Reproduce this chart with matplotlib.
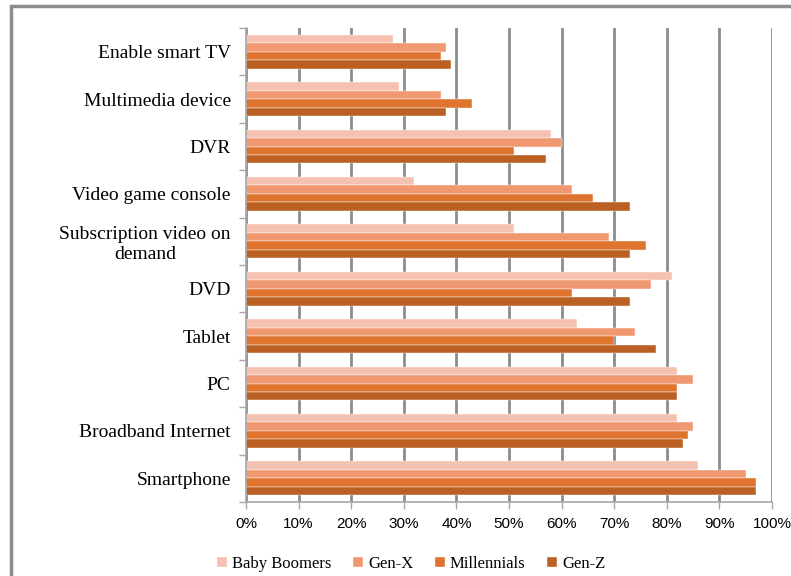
import matplotlib.pyplot as plt
import numpy as np
from matplotlib.patches import Rectangle

categories = ['Enable smart TV', 'Multimedia device', 'DVR', 'Video game console',
              'Subscription video on\ndemand', 'DVD', 'Tablet', 'PC',
              'Broadband Internet', 'Smartphone']
baby_boomers = [28, 29, 58, 32, 51, 81, 63, 82, 82, 86]
gen_x = [38, 37, 60, 62, 69, 77, 74, 85, 85, 95]
millennials = [37, 43, 51, 66, 76, 62, 70, 82, 84, 97]
gen_z = [39, 38, 57, 73, 73, 73, 78, 82, 83, 97]

series = [('Baby Boomers', baby_boomers, '#F5C1B0'),
          ('Gen-X', gen_x, '#F09870'),
          ('Millennials', millennials, '#DE742E'),
          ('Gen-Z', gen_z, '#BA6023')]

fig = plt.figure(figsize=(7.91, 5.76), dpi=100)
ax = fig.add_axes([246/791, 74/576, 526/791, 474/576])

y = np.arange(len(categories))
h = 0.178
for i, (name, vals, col) in enumerate(series):
    ax.barh(y + (i - 1.5) * h, vals, height=h, color=col, label=name,
            edgecolor='white', linewidth=0.3, zorder=2)

ax.set_xlim(0, 100)
ax.set_ylim(len(categories) - 0.5, -0.5)
ax.set_xticks(np.arange(0, 101, 10))
ax.set_xticklabels([f'{v}%' for v in range(0, 101, 10)],
                   family='Liberation Sans', fontsize=11)
ax.set_yticks(y)
ax.set_yticklabels(categories, family='Liberation Serif', fontsize=14,
                   ma='center')
ax.set_yticks(np.arange(-0.5, len(categories)), minor=True)
ax.tick_params(axis='y', which='major', length=0, pad=11)
ax.tick_params(axis='y', which='minor', length=5, color='#A6A6A6', width=1)
ax.tick_params(axis='x', length=5, color='#A6A6A6', width=1, pad=6)

ax.grid(axis='x', color='#8C8C8C', linewidth=2, zorder=0)
ax.set_axisbelow(True)
for s in ['top', 'right']:
    ax.spines[s].set_visible(False)
for s in ['left', 'bottom']:
    ax.spines[s].set_color('#A6A6A6')
    ax.spines[s].set_linewidth(1.2)

fig.legend(loc='center', bbox_to_anchor=(0.52, 0.021), ncol=4, frameon=False,
           prop={'family': 'Liberation Serif', 'size': 12},
           handlelength=0.6, handleheight=0.6, handletextpad=0.3,
           columnspacing=1.3)

fig.patches.append(Rectangle((11/791, -0.1), 1.1, 1.1 - 6/576,
                             transform=fig.transFigure, fill=False,
                             edgecolor='#8C8C8C', linewidth=2.5))

plt.savefig('out.png', dpi=100)
